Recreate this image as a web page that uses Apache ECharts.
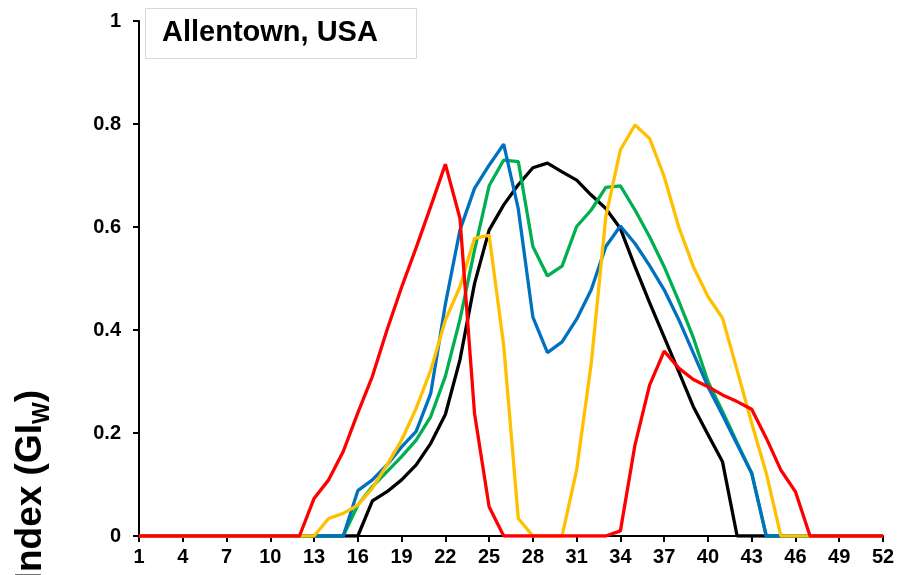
<!DOCTYPE html>
<html>
<head>
<meta charset="utf-8">
<script src="https://cdn.jsdelivr.net/npm/echarts@6/dist/echarts.min.js"></script>
<style>
html,body{margin:0;padding:0;background:#fff;}
#chart{width:898px;height:575px;}
</style>
</head>
<body>
<div id="chart"></div>
<script>
const weeks = ['1','2','3','4','5','6','7','8','9','10','11','12','13','14','15','16','17','18','19','20','21','22','23','24','25','26','27','28','29','30','31','32','33','34','35','36','37','38','39','40','41','42','43','44','45','46','47','48','49','50','51','52'];

const seriesBlack = [0,0,0,0,0,0,0,0,0,0,0,0,0,0,0,0,0.068,0.086,0.109,0.138,0.18,0.236,0.342,0.49,0.594,0.643,0.682,0.715,0.724,0.707,0.691,0.662,0.636,0.597,0.523,0.453,0.386,0.319,0.251,0.197,0.144,0,0,0,0,0,0,0,0,0,0,0];
const seriesGreen = [0,0,0,0,0,0,0,0,0,0,0,0,0,0,0,0.06,0.096,0.125,0.154,0.186,0.232,0.31,0.42,0.555,0.68,0.73,0.727,0.562,0.505,0.524,0.601,0.633,0.677,0.68,0.633,0.581,0.523,0.456,0.385,0.30,0.242,0.181,0.122,0,0,0,0,0,0,0,0,0];
const seriesBlue = [0,0,0,0,0,0,0,0,0,0,0,0,0,0,0,0.088,0.109,0.138,0.173,0.203,0.277,0.45,0.594,0.675,0.72,0.761,0.635,0.425,0.356,0.377,0.421,0.478,0.562,0.602,0.568,0.525,0.478,0.42,0.355,0.29,0.235,0.178,0.122,0,0,0,0,0,0,0,0,0];
const seriesYellow = [0,0,0,0,0,0,0,0,0,0,0,0,0,0.034,0.044,0.06,0.093,0.138,0.186,0.248,0.322,0.419,0.484,0.578,0.584,0.37,0.034,0,0,0,0.128,0.335,0.62,0.75,0.798,0.772,0.698,0.60,0.523,0.465,0.423,0.322,0.219,0.122,0,0,0,0,0,0,0,0];
const seriesRed = [0,0,0,0,0,0,0,0,0,0,0,0,0.073,0.109,0.164,0.239,0.31,0.40,0.483,0.56,0.64,0.722,0.617,0.238,0.057,0,0,0,0,0,0,0,0,0.01,0.177,0.293,0.359,0.326,0.304,0.29,0.274,0.261,0.246,0.19,0.128,0.086,0,0,0,0,0,0];

const yTicks = [0, 0.2, 0.4, 0.6, 0.8, 1];
const titleText = 'Allentown, USA';
const yName = 'Growth Index (GI';
const yNameSub = 'W';

const FONT = '"Liberation Sans", Arial, sans-serif';
const chart = echarts.init(document.getElementById('chart'), null, {renderer: 'canvas'});

function mk(name, data, color) {
  return {
    name: name, type: 'line', data: data, symbol: 'none', smooth: false,
    lineStyle: {color: color, width: 3.3}, itemStyle: {color: color},
    animation: false
  };
}

chart.setOption({
  animation: false,
  backgroundColor: '#fff',
  grid: {left: 139, right: 15, top: 21, bottom: 39, containLabel: false},
  xAxis: {
    type: 'category', data: weeks, boundaryGap: false,
    axisLine: {lineStyle: {color: '#000', width: 2}},
    axisTick: {show: true, interval: 2, length: 6, lineStyle: {color: '#000', width: 2}},
    axisLabel: {interval: 2, color: '#000', fontSize: 20, fontWeight: 'bold', fontFamily: FONT, margin: 11},
    splitLine: {show: false}
  },
  yAxis: {
    type: 'value', min: yTicks[0], max: yTicks[yTicks.length - 1], interval: 0.2,
    axisLine: {show: true, lineStyle: {color: '#000', width: 2}},
    axisTick: {show: true, length: 6, lineStyle: {color: '#000', width: 2}},
    axisLabel: {color: '#000', fontSize: 20, fontWeight: 'bold', fontFamily: FONT, margin: 18,
      formatter: function (v) { return String(Math.round(v * 10) / 10); }},
    splitLine: {show: false}
  },
  graphic: [
    {type: 'rect', left: 145, top: 8, z: 100,
      shape: {width: 271, height: 50},
      style: {fill: '#fff', stroke: '#d9d9d9', lineWidth: 1}},
    {type: 'text', x: 162, y: 33, z: 101,
      style: {text: titleText, fill: '#000', font: 'bold 29px ' + FONT, align: 'left', verticalAlign: 'middle'}},
    {type: 'text', x: 31, y: 390, rotation: Math.PI / 2, z: 101,
      style: {
        text: '{a|' + yName + '}{s|' + yNameSub + '}{a|)}',
        align: 'right', verticalAlign: 'middle',
        rich: {
          a: {fontSize: 37, fontWeight: 'bold', fontFamily: FONT, fill: '#000', color: '#000', lineHeight: 46, verticalAlign: 'middle'},
          s: {fontSize: 23, fontWeight: 'bold', fontFamily: FONT, fill: '#000', color: '#000', lineHeight: 46, verticalAlign: 'bottom', padding: [13, 0, 0, 0]}
        }
      }}
  ],
  series: [
    mk('Series 1', seriesBlack, '#000000'),
    mk('Series 2', seriesGreen, '#00B050'),
    mk('Series 3', seriesBlue, '#0070C0'),
    mk('Series 4', seriesYellow, '#FFC000'),
    mk('Series 5', seriesRed, '#FF0000')
  ]
});
</script>
</body>
</html>
